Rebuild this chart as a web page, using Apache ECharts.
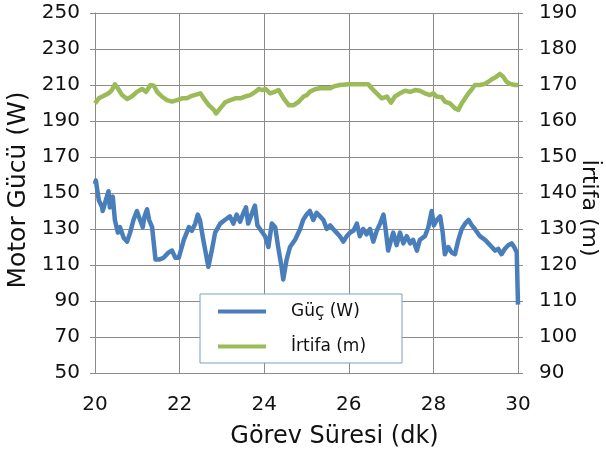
<!DOCTYPE html>
<html>
<head>
<meta charset="utf-8">
<script src="https://cdn.jsdelivr.net/npm/echarts@6/dist/echarts.min.js"></script>
<style>
html,body{margin:0;padding:0;background:#fff;}
#chart{width:606px;height:457px;}
</style>
</head>
<body>
<div id="chart"></div>
<script>
// Time axis (dk) for power series
const powerTime = [20.00, 20.02, 20.09, 20.17, 20.18, 20.32, 20.35, 20.42, 20.47, 20.54, 20.59, 20.68, 20.76, 20.83, 20.91, 20.99, 21.05, 21.13, 21.17, 21.23, 21.28, 21.35, 21.43, 21.51, 21.62, 21.74, 21.82, 21.90, 21.98, 22.10, 22.22, 22.29, 22.37, 22.43, 22.48, 22.56, 22.68, 22.76, 22.84, 22.96, 23.07, 23.19, 23.27, 23.35, 23.43, 23.51, 23.57, 23.62, 23.70, 23.78, 23.84, 23.90, 24.02, 24.10, 24.18, 24.26, 24.33, 24.41, 24.45, 24.53, 24.61, 24.73, 24.85, 24.92, 25.00, 25.08, 25.16, 25.24, 25.32, 25.40, 25.48, 25.56, 25.63, 25.71, 25.79, 25.87, 25.95, 26.03, 26.11, 26.19, 26.26, 26.34, 26.42, 26.50, 26.58, 26.66, 26.74, 26.82, 26.87, 26.93, 27.00, 27.05, 27.13, 27.21, 27.29, 27.37, 27.45, 27.52, 27.61, 27.68, 27.80, 27.88, 27.96, 28.01, 28.08, 28.16, 28.22, 28.27, 28.35, 28.43, 28.51, 28.59, 28.67, 28.75, 28.83, 28.91, 28.98, 29.10, 29.22, 29.30, 29.38, 29.46, 29.53, 29.61, 29.69, 29.77, 29.85, 29.91, 29.97, 30.00];
// Güç (W)
const powerValues = [155, 157, 146, 142, 140, 151, 142, 148, 135, 128, 131, 125, 123, 128, 135, 140, 136, 131, 137, 141, 135, 131, 113, 113, 114, 117, 118, 114, 114, 124, 131, 129, 133, 138, 135, 124, 109, 118, 128, 133, 135, 137, 133, 138, 134, 139, 142, 133, 138, 143, 132, 130, 126, 120, 133, 131, 120, 109, 102, 113, 120, 124, 130, 135, 138, 140, 135, 139, 137, 135, 130, 132, 130, 128, 126, 123, 126, 128, 129, 133, 126, 130, 127, 130, 123, 129, 133, 138, 130, 118, 124, 128, 121, 128, 122, 126, 122, 124, 118, 124, 126, 131, 140, 132, 135, 137, 128, 116, 120, 117, 116, 124, 130, 133, 135, 132, 130, 126, 124, 122, 120, 118, 119, 116, 119, 121, 122, 120, 117, 88];
// Time axis (dk) for altitude series
const altTime = [20.00, 20.09, 20.21, 20.32, 20.40, 20.47, 20.54, 20.64, 20.76, 20.87, 20.99, 21.11, 21.21, 21.31, 21.39, 21.47, 21.58, 21.70, 21.82, 21.94, 22.06, 22.17, 22.29, 22.41, 22.49, 22.57, 22.69, 22.81, 22.86, 22.96, 23.08, 23.20, 23.32, 23.43, 23.55, 23.67, 23.79, 23.87, 23.95, 24.03, 24.14, 24.25, 24.34, 24.46, 24.58, 24.70, 24.82, 24.93, 25.01, 25.08, 25.20, 25.32, 25.44, 25.56, 25.67, 25.79, 25.99, 26.22, 26.46, 26.54, 26.66, 26.78, 26.90, 27.00, 27.09, 27.21, 27.33, 27.45, 27.57, 27.68, 27.80, 27.92, 28.00, 28.08, 28.20, 28.27, 28.39, 28.51, 28.59, 28.67, 28.75, 28.83, 28.91, 28.98, 29.10, 29.22, 29.30, 29.38, 29.49, 29.57, 29.65, 29.73, 29.81, 29.93, 30.00];
// İrtifa (m)
const altValues = [164.9, 166.3, 167.0, 167.7, 168.6, 170.2, 169.1, 167.2, 166.1, 166.8, 168.1, 168.9, 168.1, 170.0, 169.8, 168.1, 166.8, 165.8, 165.4, 165.8, 166.3, 166.3, 167.0, 167.4, 167.7, 166.3, 164.4, 163.1, 162.1, 163.5, 165.2, 165.8, 166.3, 166.3, 166.8, 167.2, 168.1, 168.9, 168.6, 168.9, 167.7, 168.1, 168.6, 166.3, 164.4, 164.4, 165.4, 166.8, 167.2, 168.1, 168.8, 169.1, 169.1, 169.1, 169.7, 170.0, 170.2, 170.2, 170.2, 169.1, 167.7, 166.3, 166.8, 165.1, 166.8, 167.7, 168.4, 168.1, 168.6, 168.4, 167.7, 167.2, 167.7, 166.8, 166.6, 165.4, 164.9, 163.5, 163.1, 164.9, 166.3, 167.7, 168.8, 170.0, 170.0, 170.3, 170.9, 171.6, 172.3, 173.1, 172.3, 170.9, 170.3, 170.0, 170.0];

const seriesNames = ['Güç (W)', 'İrtifa (m)'];
const xTitle = 'Görev Süresi (dk)';
const yLeftTitle = 'Motor Gücü (W)';
const yRightTitle = 'İrtifa (m)';

const FONT = 'DejaVu Sans';
const gridColor = '#8a8a8a';
const textColor = '#111111';

const chart = echarts.init(document.getElementById('chart'), null, {renderer: 'canvas'});
chart.setOption({
  animation: false,
  backgroundColor: '#ffffff',
  grid: {left: 95, right: 88, top: 13, bottom: 84, containLabel: false, outerBoundsMode: 'none'},
  legend: {
    orient: 'vertical',
    left: 200, top: 294,
    data: seriesNames,
    icon: 'rect',
    itemWidth: 48, itemHeight: 4,
    itemGap: 14,
    padding: [7, 36, 6, 18],
    borderColor: '#7f9fc0', borderWidth: 1,
    backgroundColor: '#fff',
    textStyle: {fontFamily: FONT, fontSize: 17, color: textColor, padding: [0, 0, 0, 20], lineHeight: 21}
  },
  xAxis: {
    type: 'value', min: 20, max: 30, interval: 2,
    name: xTitle, nameLocation: 'middle', nameGap: 52,
    nameTextStyle: {fontFamily: FONT, fontSize: 24, color: textColor, padding: [0, 0, 0, 56]},
    axisLine: {lineStyle: {color: gridColor, width: 1}},
    axisTick: {show: false},
    axisLabel: {fontFamily: FONT, fontSize: 20, color: textColor, margin: 22},
    splitLine: {show: true, lineStyle: {color: gridColor, width: 1}}
  },
  yAxis: [
    {
      type: 'value', min: 50, max: 250, interval: 20, position: 'left',
      name: yLeftTitle, nameLocation: 'middle', nameGap: 58,
      nameTextStyle: {fontFamily: FONT, fontSize: 25, color: textColor, padding: [0, 0, 0, 6]},
      axisLine: {show: true, lineStyle: {color: gridColor, width: 1}},
      axisTick: {show: true, length: 5, lineStyle: {color: gridColor}},
      axisLabel: {fontFamily: FONT, fontSize: 20, color: textColor, margin: 15},
      splitLine: {show: true, lineStyle: {color: gridColor, width: 1}}
    },
    {
      type: 'value', min: 90, max: 190, interval: 10, position: 'right',
      name: yRightTitle, nameLocation: 'middle', nameGap: 60, nameRotate: -90, nameMoveOverlap: false,
      nameTextStyle: {fontFamily: FONT, fontSize: 22, color: textColor, padding: [0, 0, 0, 30]},
      axisLine: {show: true, lineStyle: {color: gridColor, width: 1}},
      axisTick: {show: true, length: 5, lineStyle: {color: gridColor}},
      axisLabel: {fontFamily: FONT, fontSize: 20, color: textColor, margin: 21},
      splitLine: {show: false}
    }
  ],
  series: [
    {
      name: seriesNames[0], type: 'line', yAxisIndex: 0,
      data: powerTime.map((t, i) => [t, powerValues[i]]),
      showSymbol: false, symbol: 'none',
      lineStyle: {color: '#4a7ebb', width: 4.5, join: 'round'},
      itemStyle: {color: '#4a7ebb'},
      z: 3
    },
    {
      name: seriesNames[1], type: 'line', yAxisIndex: 1,
      data: altTime.map((t, i) => [t, altValues[i]]),
      showSymbol: false, symbol: 'none',
      lineStyle: {color: '#9bbb59', width: 4.5, join: 'round'},
      itemStyle: {color: '#9bbb59'},
      z: 2
    }
  ]
});
</script>
</body>
</html>
